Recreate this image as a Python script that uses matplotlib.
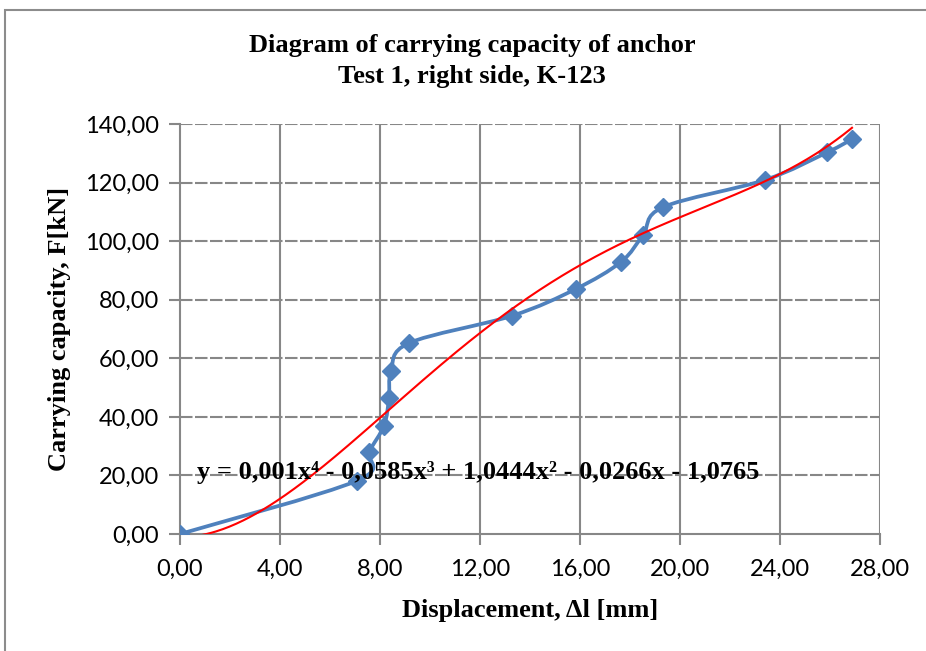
import numpy as np
import matplotlib
matplotlib.use('Agg')
import matplotlib.pyplot as plt
from matplotlib.path import Path
from matplotlib.patches import PathPatch, Rectangle
from matplotlib.ticker import FuncFormatter, MultipleLocator

# Measured points: displacement [mm] and force [kN]
displacement = [0.00, 7.08, 7.56, 8.16, 8.36, 8.44, 9.16, 13.28, 15.84, 17.64, 18.52, 19.32, 23.40, 25.88, 26.88]
force = [0.00, 18.2, 28.0, 37.0, 46.4, 55.7, 65.2, 74.5, 83.7, 92.9, 102.1, 111.6, 120.9, 130.3, 134.8]

# Trendline coefficients (poly 4th order, as printed on the chart)
trend_coef = [0.001, -0.0585, 1.0444, -0.0266, -1.0765]
trend_label = 'y = 0,001x\u2074 - 0,0585x\u00b3 + 1,0444x\u00b2 - 0,0266x - 1,0765'

x_ticks = [0, 4, 8, 12, 16, 20, 24, 28]
y_ticks = [0, 20, 40, 60, 80, 100, 120, 140]

blue = '#4F81BD'
grid_col = '#878787'
serif = ['Liberation Serif', 'DejaVu Serif']
tick_font = 'Lato'


def smooth_path(xs, ys):
    """Excel-like smoothed line: cubic bezier through every point."""
    pts = np.column_stack([xs, ys])
    n = len(pts)
    verts = [pts[0]]
    codes = [Path.MOVETO]
    for i in range(n - 1):
        p0 = pts[i - 1] if i > 0 else pts[i]
        p1 = pts[i]
        p2 = pts[i + 1]
        p3 = pts[i + 2] if i + 2 < n else pts[i + 1]
        c1 = p1 + (p2 - p0) / 6.0
        c2 = p2 - (p3 - p1) / 6.0
        verts += [c1, c2, p2]
        codes += [Path.CURVE4] * 3
    return Path(verts, codes)


fig = plt.figure(figsize=(9.26, 6.51), dpi=100)
fig.patches.append(Rectangle((5 / 926, -0.05), 1.5, 1 - 10 / 651 + 0.05,
                             transform=fig.transFigure, fill=False,
                             edgecolor='#8c8c8c', lw=1.5))

ax = fig.add_axes([180 / 926, 1 - 534 / 651, 700 / 926, 410 / 651])
ax.set_xlim(0, 28)
ax.set_ylim(0, 140)

# grid: horizontal dashed, vertical solid
for yv in y_ticks[1:]:
    ax.axhline(yv, color=grid_col, lw=1.5, dashes=(6, 1.2), zorder=1)
for xv in x_ticks[1:]:
    ax.axvline(xv, color=grid_col, lw=1.5, zorder=1)

for s in ['top', 'right']:
    ax.spines[s].set_visible(False)
for s in ['left', 'bottom']:
    ax.spines[s].set_color(grid_col)
    ax.spines[s].set_linewidth(1.5)

# measured curve
ax.add_patch(PathPatch(smooth_path(displacement, force), fill=False,
                       edgecolor=blue, lw=2.7, zorder=3, capstyle='round'))
ax.plot(displacement, force, ls='none', marker='D', ms=9, color=blue, zorder=4)

# polynomial trendline
xt = np.linspace(0, max(displacement), 300)
ax.plot(xt, np.polyval(trend_coef, xt), color='red', lw=1.5, zorder=5)

ax.text(0.68, 21, trend_label, family=serif, fontweight='bold', fontsize=19,
        ha='left', va='center', zorder=6)

ax.xaxis.set_major_locator(MultipleLocator(4))
ax.yaxis.set_major_locator(MultipleLocator(20))
fmt = FuncFormatter(lambda v, p: ('%.2f' % v).replace('.', ','))
ax.xaxis.set_major_formatter(fmt)
ax.yaxis.set_major_formatter(fmt)
ax.tick_params(axis='both', color=grid_col, width=1.5, length=8, labelsize=17, pad=7)
ax.tick_params(axis='x', direction='out', pad=10)
ax.tick_params(axis='y', direction='out')
for lab in ax.get_xticklabels() + ax.get_yticklabels():
    lab.set_fontfamily(tick_font)

ax.set_xlabel('Displacement, \u0394l [mm]', family=serif, fontweight='bold', fontsize=19, labelpad=14)
ax.set_ylabel('Carrying capacity, F[kN]', family=serif, fontweight='bold', fontsize=19, labelpad=10)

fig.text(472 / 926, 1 - 61 / 651, 'Diagram of carrying capacity of anchor\nTest 1, right side, K-123',
         family=serif, fontweight='bold', fontsize=19, ha='center', va='center', linespacing=1.4)

fig.savefig('out.png', dpi=100)
